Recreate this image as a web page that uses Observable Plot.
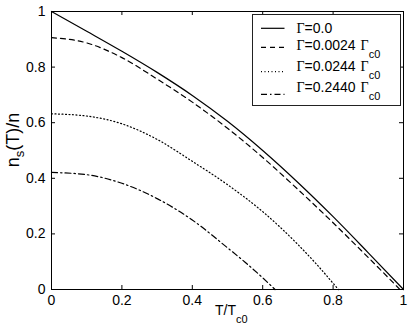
<!DOCTYPE html>
<html><head><meta charset="utf-8">
<script src="https://cdn.jsdelivr.net/npm/d3@7"></script>
<script src="https://cdn.jsdelivr.net/npm/@observablehq/plot@0.6"></script>
<style>body{margin:0;background:#fff}svg{font-family:"Liberation Sans",Arial,sans-serif}</style>
</head><body><div id="chart"></div>
<script>
const xTicks = [0, 0.2, 0.4, 0.6, 0.8, 1];
const yTicks = [0, 0.2, 0.4, 0.6, 0.8, 1];
const xTickLabels = ["0", "0.2", "0.4", "0.6", "0.8", "1"];
const yTickLabels = ["0", "0.2", "0.4", "0.6", "0.8", "1"];
const legendValues = ["0.0", "0.0024", "0.0244", "0.2440"];
const legendHasUnit = [false, true, true, true];

const t0 = [0, 0.1, 0.2, 0.3, 0.4, 0.5, 0.6, 0.7, 0.8, 0.9, 1.0];
const ns0 = [1.0, 0.929, 0.857, 0.781, 0.698, 0.605, 0.5, 0.385, 0.262, 0.132, 0];
const t1 = [0, 0.1, 0.2, 0.3, 0.4, 0.5, 0.6, 0.7, 0.8, 0.9, 0.99];
const ns1 = [0.906, 0.887, 0.834, 0.757, 0.674, 0.58, 0.475, 0.36, 0.24, 0.115, 0];
const t2 = [0, 0.1, 0.2, 0.3, 0.4, 0.5, 0.6, 0.7, 0.75, 0.815];
const ns2 = [0.632, 0.624, 0.596, 0.54, 0.461, 0.377, 0.28, 0.162, 0.095, 0];
const t3 = [0, 0.1, 0.2, 0.3, 0.4, 0.5, 0.55, 0.6, 0.635];
const ns3 = [0.421, 0.413, 0.382, 0.327, 0.25, 0.15, 0.098, 0.042, 0];

const dashes = [null, "5,4", "1,2.5", "6,3,1.5,3"];
const series = [[t0, ns0], [t1, ns1], [t2, ns2], [t3, ns3]].map(([t, n]) => t.map((x, i) => ({x, y: n[i]})));

const W = 411, H = 328, mL = 51, mR = 8, mT = 11, mB = 39;
const pw = W - mL - mR, ph = H - mT - mB;

const chart = Plot.plot({
  width: W, height: H,
  marginLeft: mL, marginRight: mR, marginTop: mT, marginBottom: mB,
  style: {fontFamily: "'Liberation Sans', Arial, sans-serif", fontSize: "14px", background: "white", color: "black"},
  x: {domain: [0, 1]},
  y: {domain: [0, 1]},
  marks: [
    Plot.frame({stroke: "black", strokeWidth: 1}),
    Plot.axisX({ticks: xTicks, tickFormat: (d) => xTickLabels[xTicks.indexOf(d)], tickSize: 0, tickPadding: 6, fontSize: 14, label: null}),
    Plot.axisY({ticks: yTicks, tickFormat: (d) => yTickLabels[yTicks.indexOf(d)], tickSize: 0, tickPadding: 6, fontSize: 14, label: null}),
    Plot.tickX(xTicks, {x: d => d, insetTop: ph - 4, stroke: "black"}),
    Plot.tickX(xTicks, {x: d => d, insetBottom: ph - 4, stroke: "black"}),
    Plot.tickY(yTicks, {y: d => d, insetRight: pw - 4, stroke: "black"}),
    Plot.tickY(yTicks, {y: d => d, insetLeft: pw - 4, stroke: "black"}),
    ...series.map((s, i) => Plot.line(s, {x: "x", y: "y", curve: "monotone-x", stroke: "black", strokeWidth: 1.2, strokeDasharray: dashes[i]}))
  ]
});
document.getElementById("chart").appendChild(chart);

const svg = d3.select(chart);
// axis labels
const xl = svg.append("text").attr("x", 215).attr("y", 315).attr("font-size", 14)
  .attr("fill", "black").attr("text-anchor", "start");
xl.append("tspan").text("T/T");
xl.append("tspan").attr("font-size", 11).attr("dy", 8).text("c0");

const yl = svg.append("text").attr("transform", "translate(19,140) rotate(-90)").attr("font-size", 18)
  .attr("fill", "black").attr("text-anchor", "middle");
yl.append("tspan").text("n");
yl.append("tspan").attr("font-size", 13).attr("dy", 5).text("s");
yl.append("tspan").attr("dy", -5).text("(T)/n");

// legend
const lg = svg.append("g");
lg.append("rect").attr("x", 252.5).attr("y", 14.5).attr("width", 148).attr("height", 91)
  .attr("fill", "white").attr("stroke", "#222").attr("stroke-width", 1);
const lineY = [28.3, 47.3, 71.7, 94.3];
const baseY = [32.7, 50, 71, 92.3];
legendValues.forEach((v, i) => {
  lg.append("line").attr("x1", 261).attr("x2", 284.5).attr("y1", lineY[i]).attr("y2", lineY[i])
    .attr("stroke", "black").attr("stroke-width", 1.2).attr("stroke-dasharray", dashes[i]);
  const t = lg.append("text").attr("x", 296.5).attr("y", baseY[i]).attr("font-size", 14)
    .attr("fill", "black").attr("text-anchor", "start");
  t.append("tspan").attr("font-family", "'Liberation Serif', serif").text("Γ");
  t.append("tspan").text("=" + v);
  if (legendHasUnit[i]) {
    t.append("tspan").attr("font-family", "'Liberation Serif', serif").attr("dx", 5).text("Γ");
    t.append("tspan").attr("font-size", 11).attr("dy", 8).text("c0");
  }
});
</script></body></html>
